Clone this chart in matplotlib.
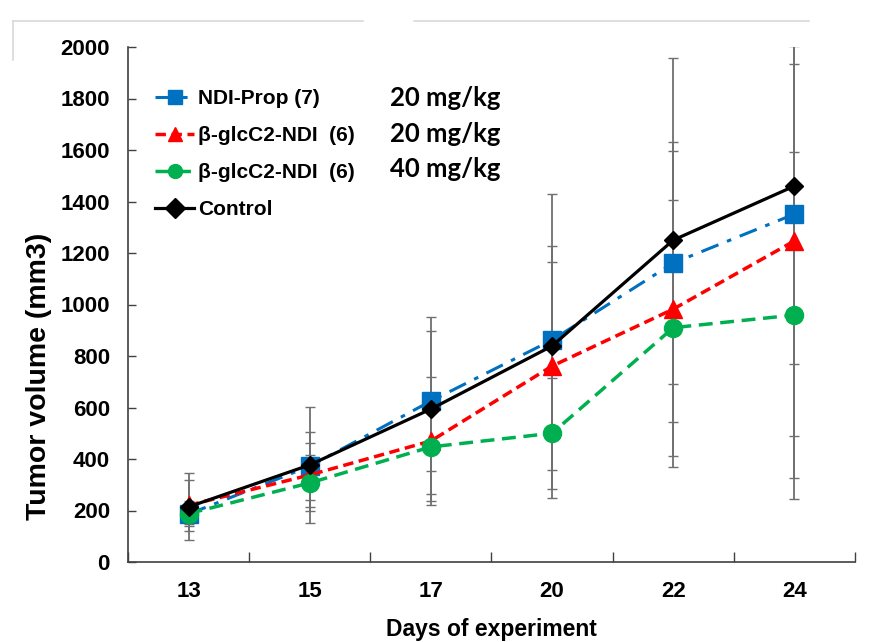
import matplotlib
matplotlib.use("Agg")
import matplotlib.pyplot as plt
from matplotlib.lines import Line2D
import numpy as np

days = ["13", "15", "17", "20", "22", "24"]

ndi_prop = [186, 372, 625, 862, 1161, 1351]
ndi_prop_err = [40, 131, 272, 365, 470, 582]

glc_20 = [220, 338, 470, 761, 982, 1247]
glc_20_err = [98, 124, 248, 404, 615, 758]

glc_40 = [188, 307, 447, 500, 910, 959]
glc_40_err = [50, 109, 183, 215, 497, 633]

control = [214, 377, 594, 839, 1250, 1460]
control_err = [130, 225, 357, 590, 706, 1215]

labels = ["NDI-Prop (7)", "β-glcC2-NDI  (6)", "β-glcC2-NDI  (6)", "Control"]
doses = ["20 mg/kg", "20 mg/kg", "40 mg/kg"]

sans = ["Liberation Sans", "DejaVu Sans"]

fig = plt.figure(figsize=(8.77, 6.42), dpi=100)
ax = fig.add_axes([128/877, 1-562/642, (855-128)/877, (562-47)/642])

x = np.arange(len(days))
err_kw = dict(ecolor="#707070", elinewidth=1.3, capsize=3.5, capthick=1.0, zorder=1)

series = [
    (ndi_prop, ndi_prop_err, dict(color="#0070C0", ls=(0, (6, 3, 1.5, 3)), marker="s", ms=13, lw=2.2)),
    (glc_20, glc_20_err, dict(color="#FF0000", ls=(0, (3, 1.6)), marker="^", ms=13, lw=2.5)),
    (glc_40, glc_40_err, dict(color="#00B050", ls=(0, (4, 2.2)), marker="o", ms=13, lw=2.5)),
    (control, control_err, dict(color="#000000", ls="-", marker="D", ms=9.5, lw=2.3)),
]

handles = []
for (vals, errs, st) in series:
    ax.errorbar(x, vals, yerr=errs, fmt="none", **err_kw)
for (vals, errs, st), lab in zip(series, labels):
    h, = ax.plot(x, vals, color=st["color"], ls=st["ls"], marker=st["marker"],
                 ms=st["ms"], lw=st["lw"], mec=st["color"], zorder=3, label=lab)
    handles.append(h)

ax.set_xlim(-0.5, len(days) - 0.5)
ax.set_ylim(0, 2000)
ax.set_yticks(np.arange(0, 2001, 200))
ax.set_xticks(np.arange(-0.5, len(days), 1.0))
ax.set_xticklabels([])
ax.set_xticks(x, minor=True)
ax.set_xticklabels(days, minor=True)
ax.tick_params(axis="x", which="major", direction="in", length=7, width=1, color="#404040")
ax.tick_params(axis="x", which="minor", length=0, pad=14)
ax.tick_params(axis="y", direction="in", length=6, width=1, color="#404040", pad=13)

for lab in ax.get_yticklabels() + ax.get_xticklabels(minor=True):
    lab.set_fontfamily(sans)
    lab.set_fontweight("bold")
    lab.set_fontsize(16)

for s in ["top", "right"]:
    ax.spines[s].set_visible(False)
for s in ["left", "bottom"]:
    ax.spines[s].set_color("#404040")
    ax.spines[s].set_linewidth(1.2)

ax.set_ylabel("Tumor volume (mm3)", fontfamily=sans, fontweight="bold", fontsize=20.5)
ax.yaxis.set_label_coords(-0.104, 0.36)
ax.set_xlabel("Days of experiment", fontfamily=sans,
              fontweight="bold", fontsize=16.5, labelpad=11)

leg = ax.legend(handles=handles, loc="upper left", bbox_to_anchor=(0.011, 0.955),
                frameon=False, handlelength=1.9, handletextpad=0.2, labelspacing=0.87,
                prop=dict(family=sans, weight="bold", size=15))
for h in leg.legend_handles:
    h.set_markersize(10)

for i, d in enumerate(doses):
    ax.text(0.36, 0.901 - i * 0.069, d, transform=ax.transAxes,
            fontfamily=["Lato", "DejaVu Sans"], fontweight="bold", fontsize=18.5,
            va="center", ha="left")

# faint frame lines at top of image
fig.add_artist(Line2D([13/877, 363/877], [1-21/642, 1-21/642], color="#d9d9d9", lw=1.2))
fig.add_artist(Line2D([414/877, 809/877], [1-21/642, 1-21/642], color="#d9d9d9", lw=1.2))
fig.add_artist(Line2D([13/877, 13/877], [1-21/642, 1-60/642], color="#d9d9d9", lw=1.2))

fig.savefig("out.png", dpi=100)
